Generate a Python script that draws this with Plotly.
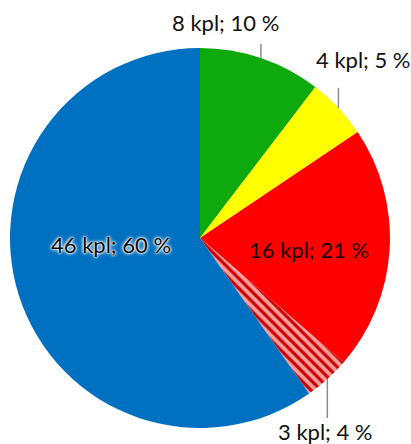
import math
import plotly.graph_objects as go

# Share of items per category (kpl = pieces)
categories = ["A", "B", "C", "D", "E"]
counts = [8, 4, 16, 3, 46]
slice_colors = ["#0DA90D", "#FFFF00", "#FF0000", "#FF9C9C", "#0070C0"]
slice_patterns = ["", "", "", "\\", ""]

total = sum(counts)
labels_text = [f"{c} kpl; {round(100 * c / total)} %" for c in counts]

# Figure geometry (pixels)
W, H = 411, 444
M = dict(l=10, r=21, t=48, b=16)
plot_w = W - M["l"] - M["r"]
plot_h = H - M["t"] - M["b"]


def to_paper(px, py):
    return (px - M["l"]) / plot_w, (H - M["b"] - py) / plot_h


# Mid-angle of each slice (degrees clockwise from 12 o'clock)
mid_angles = []
acc = 0
for c in counts:
    mid_angles.append((acc + c / 2) / total * 360)
    acc += c

# Label placement: outside labels get a vertical leader line of the given
# length (px, + = downward) and a text offset from the line end; inside
# labels sit at the given pixel position.
label_style = [
    dict(kind="out", line=-14, dx=-35, dy=-22),
    dict(kind="out", line=-20, dx=25, dy=-28),
    dict(kind="in", pos=(309, 249), color="#1c0000", glow=False),
    dict(kind="out", line=39, dx=-2, dy=13),
    dict(kind="in", pos=(111, 245), color="#0a0a0a", glow=True),
]

fig = go.Figure(
    go.Pie(
        labels=categories,
        values=counts,
        textinfo="none",
        sort=False,
        direction="clockwise",
        rotation=0,
        marker=dict(
            colors=slice_colors,
            line=dict(width=0),
            pattern=dict(
                shape=slice_patterns,
                fgcolor="#C80000",
                bgcolor="#FF9C9C",
                size=7,
                solidity=0.45,
            ),
        ),
        hoverinfo="skip",
    )
)

font_family = "Lato"
font_size = 22
cx, cy = 0.5, 0.5
annotations = []
shapes = []
for text, ang, st in zip(labels_text, mid_angles, label_style):
    if st["kind"] == "out":
        # point on the rim of the slice at its mid-angle
        x0 = cx + 0.5 * math.sin(math.radians(ang))
        y0 = cy + 0.5 * math.cos(math.radians(ang))
        y1 = y0 - st["line"] / plot_h
        shapes.append(dict(type="line", xref="paper", yref="paper",
                           x0=x0, y0=y0, x1=x0, y1=y1,
                           line=dict(color="#8C8C8C", width=1.5)))
        annotations.append(dict(
            xref="paper", yref="paper",
            x=x0 + st["dx"] / plot_w, y=y1 - st["dy"] / plot_h,
            text=text, showarrow=False, xanchor="center", yanchor="middle",
            font=dict(family=font_family, size=font_size, color="#111111"),
        ))
    else:
        px, py = to_paper(*st["pos"])
        f = dict(family=font_family, size=font_size, color=st["color"])
        if st["glow"]:
            f["shadow"] = ("0px 0px 1px #ffffff, 0px 0px 2px #ffffff, "
                           "0px 0px 3px #ffffff, 0px 0px 4px #ffffff")
        annotations.append(dict(
            xref="paper", yref="paper", x=px, y=py, text=text,
            showarrow=False, xanchor="center", yanchor="middle", font=f,
        ))

fig.update_layout(
    width=W,
    height=H,
    margin=M,
    paper_bgcolor="white",
    showlegend=False,
    annotations=annotations,
    shapes=shapes,
)

fig.write_html("out.html")
